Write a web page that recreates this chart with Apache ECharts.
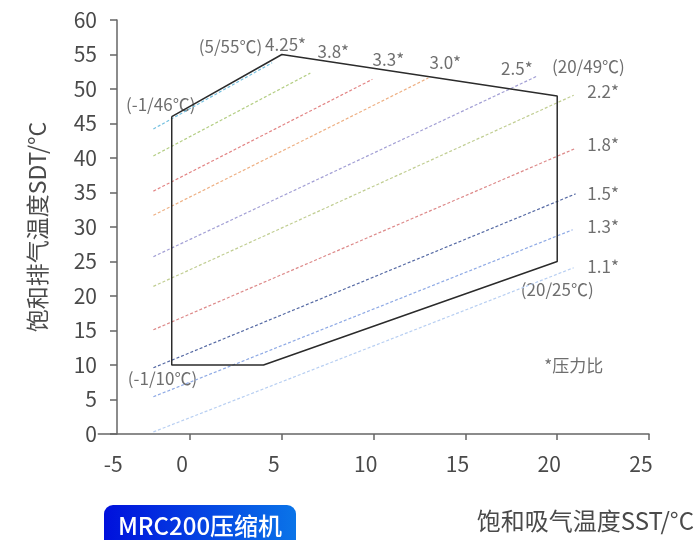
<!DOCTYPE html>
<html lang="zh">
<head>
    <meta charset="UTF-8">
    <title>MRC200</title>
    <style>
        * { margin: 0; padding: 0; }
        #chart { width: 696px; height: 540px; }
    </style>
    <script src="https://cdn.jsdelivr.net/npm/echarts@6/dist/echarts.min.js"></script>
</head>
<body>
<div id="chart"></div>
<script>
    // 压力比线 (等压比虚线)
    var ratioNames = ['4.25', '3.8', '3.3', '3.0', '2.5', '2.2', '1.8', '1.5', '1.3', '1.1'];
    var lineStartX = -2;
    var lineStartY = [44.2, 40.3, 35.2, 31.7, 25.7, 21.4, 15.1, 9.6, 5.4, 0.3];
    var lineEndX = [4.47, 6.55, 9.93, 12.98, 18.93, 20.9, 21.0, 21.0, 20.84, 20.9];
    var lineEndY = [53.8, 52.3, 51.4, 51.6, 51.9, 49.1, 41.4, 34.8, 29.6, 24.1];
    var ratioColors = ['#74c0e0', '#b4ce84', '#e28484', '#eeb084', '#a3a0d5',
        '#c1ce93', '#dd8a8a', '#566aa4', '#8faae5', '#b8cff2'];

    // 运行范围
    var envX = [-1, 5, 20, 20, 4, -1, -1];
    var envY = [46, 55, 49, 25, 10, 10, 46];

    // 标注文字
    var annoText = ['(5/55℃)', '4.25*', '3.8*', '3.3*', '3.0*', '2.5*', '(20/49℃)',
        '2.2*', '1.8*', '1.5*', '1.3*', '1.1*', '(20/25℃)', '(-1/46℃)', '(-1/10℃)', '*压力比'];
    var annoX = [2.2, 5.2, 7.8, 10.8, 13.9, 17.8, 21.7, 22.5, 22.5, 22.5, 22.5, 22.5, 20.0, -1.6, -1.5, 20.9];
    var annoY = [56.1, 56.4, 55.4, 54.2, 53.9, 52.9, 53.2, 49.6, 41.9, 34.9, 30.1, 24.2, 20.9, 47.7, 8.1, 9.9];

    var xTickValues = [0, 5, 10, 15, 20, 25];

    var chart = echarts.init(document.getElementById('chart'));
    var font = '"Noto Sans CJK SC", "Noto Sans", sans-serif';
    var textColor = '#4a4a4a';

    var series = [];
    ratioNames.forEach(function (name, i) {
        series.push({
            type: 'line',
            name: name,
            data: [[lineStartX, lineStartY[i]], [lineEndX[i], lineEndY[i]]],
            symbol: 'none',
            silent: true,
            lineStyle: { color: ratioColors[i], width: 1.2, type: [3, 2] }
        });
    });
    series.push({
        type: 'line',
        name: 'envelope',
        data: envX.map(function (x, i) { return [x, envY[i]]; }),
        symbol: 'none',
        silent: true,
        lineStyle: { color: '#2b2b2b', width: 1.5 }
    });
    series.push({
        type: 'scatter',
        name: 'labels',
        symbolSize: 0,
        silent: true,
        data: annoText.map(function (t, i) { return { name: t, value: [annoX[i], annoY[i]] }; }),
        label: {
            show: true,
            position: 'inside',
            formatter: '{b}',
            color: textColor,
            fontSize: 17,
            fontFamily: font
        }
    });

    var option = {
        animation: false,
        backgroundColor: '#fff',
        grid: { left: 98.3, right: 47, top: 20, bottom: 106 },
        xAxis: {
            type: 'value',
            min: -5, max: 25, interval: 5,
            splitLine: { show: false },
            axisLine: { onZero: false, lineStyle: { color: '#666', width: 1.5 } },
            axisTick: {
                show: true, length: 6, customValues: xTickValues,
                lineStyle: { color: '#666', width: 1.5 }
            },
            axisLabel: {
                color: textColor, fontSize: 21, fontFamily: font, margin: 20,
                formatter: function (v) { return v === -5 ? '{first|' + v + '}' : '{n|' + v + '}'; },
                rich: {
                    n: { color: textColor, fontSize: 21, fontFamily: font, padding: [0, 16, 0, 0] },
                    first: { color: textColor, fontSize: 21, fontFamily: font, padding: [0, 0, 0, 30] }
                }
            }
        },
        yAxis: {
            type: 'value',
            min: 0, max: 60, interval: 5,
            offset: -18.7,
            splitLine: { show: false },
            axisLine: { show: true, onZero: false, lineStyle: { color: '#666', width: 1.5 } },
            axisTick: { show: true, length: 7, lineStyle: { color: '#666', width: 1.5 } },
            axisLabel: { color: textColor, fontSize: 21, fontFamily: font, margin: 20 },
            name: '饱和排气温度SDT/°C',
            nameLocation: 'middle',
            nameGap: 68,
            nameTextStyle: { color: textColor, fontSize: 23, fontFamily: font }
        },
        graphic: [
            {
                type: 'group',
                left: 104,
                top: 505,
                children: [
                    {
                        type: 'rect',
                        shape: { x: 0, y: 0, width: 192, height: 44, r: 9 },
                        style: {
                            fill: new echarts.graphic.LinearGradient(0, 0, 1, 0, [
                                { offset: 0, color: '#0010dc' },
                                { offset: 1, color: '#0a74e8' }
                            ])
                        }
                    },
                    {
                        type: 'text',
                        x: 96, y: 21,
                        style: {
                            text: 'MRC200压缩机',
                            fill: '#fff',
                            font: '500 24px ' + font,
                            align: 'center',
                            verticalAlign: 'middle'
                        }
                    }
                ]
            },
            {
                type: 'text',
                right: 2,
                top: 509,
                style: {
                    text: '饱和吸气温度SST/°C',
                    fill: textColor,
                    font: '24px ' + font
                }
            }
        ],
        series: series
    };
    chart.setOption(option);
</script>
</body>
</html>
